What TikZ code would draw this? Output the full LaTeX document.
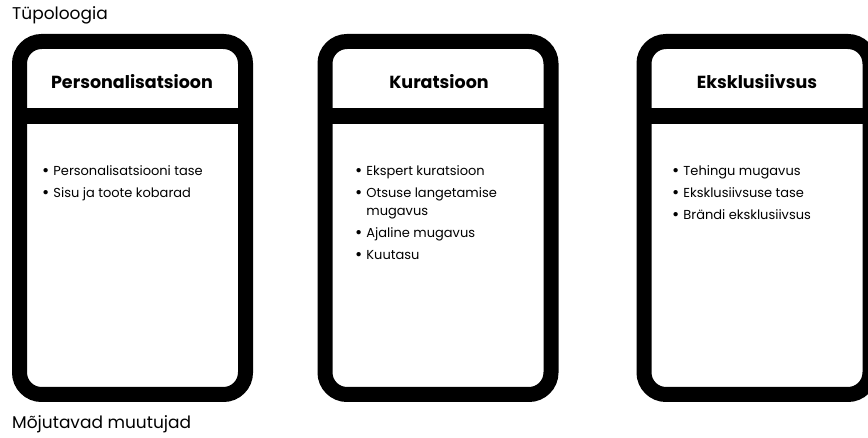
\documentclass[tikz,border=0pt]{standalone}
\usepackage{fontspec}
\setmainfont{Poppins}
\usetikzlibrary{positioning}

\newcommand{\itm}{\raisebox{-1.9pt}{\scalebox{1.35}{\textbullet}}\hspace{4pt}}

\begin{document}
\begin{tikzpicture}[x=1pt,y=-1pt,
  card/.style={draw=black,line width=15pt,rounded corners=22pt,minimum width=226pt,minimum height=353pt,inner sep=0pt,outer sep=0pt},
  bar/.style={draw=black,line width=16pt},
  cardtitle/.style={font=\fontsize{17.5}{20}\selectfont\bfseries,inner sep=0pt},
  items/.style={font=\fontsize{13}{18}\selectfont,align=left,anchor=north west,inner sep=0pt},
  sidelabel/.style={font=\fontsize{17}{20}\selectfont,anchor=west,inner sep=0pt}]
\useasboundingbox (0,0) rectangle (868,438);
\clip (0,0) rectangle (868,438);

% cards
\node[card] (pers) at (132.5,218) {};
\node[card] (kur) at (438,218) {};
\node[card] (eks) at (757,218) {};

% header bars
\draw[bar] ([yshift=-74.5pt]pers.north west) -- ([yshift=-74.5pt]pers.north east);
\draw[bar] ([yshift=-74.5pt]kur.north west) -- ([yshift=-74.5pt]kur.north east);
\draw[bar] ([yshift=-74.5pt]eks.north west) -- ([yshift=-74.5pt]eks.north east);

% titles
\node[cardtitle] (perstitle) at (132,82) {Personalisatsioon};
\node[cardtitle] (kurtitle) at (439,82) {Kuratsioon};
\node[cardtitle] (ekstitle) at (757,82) {Eksklusiivsus};

% items
\node[items] (persitems) at (42,165) {\itm Personalisatsiooni tase\\[4pt]
\itm Sisu ja toote kobarad};
\node[items] (kuritems) at (355,165) {\itm Ekspert kuratsioon\\[4pt]
\itm Otsuse langetamise\\
\phantom{\itm}mugavus\\[4pt]
\itm Ajaline mugavus\\[4pt]
\itm Kuutasu};
\node[items] (eksitems) at (672,165) {\itm Tehingu mugavus\\[4pt]
\itm Eksklusiivsuse tase\\[4pt]
\itm Brändi eksklusiivsus};

% labels
\node[sidelabel] (typo) at (12,15) {Tüpoloogia};
\node[sidelabel] (muutujad) at (12,424) {Mõjutavad muutujad};

\end{tikzpicture}
\end{document}
